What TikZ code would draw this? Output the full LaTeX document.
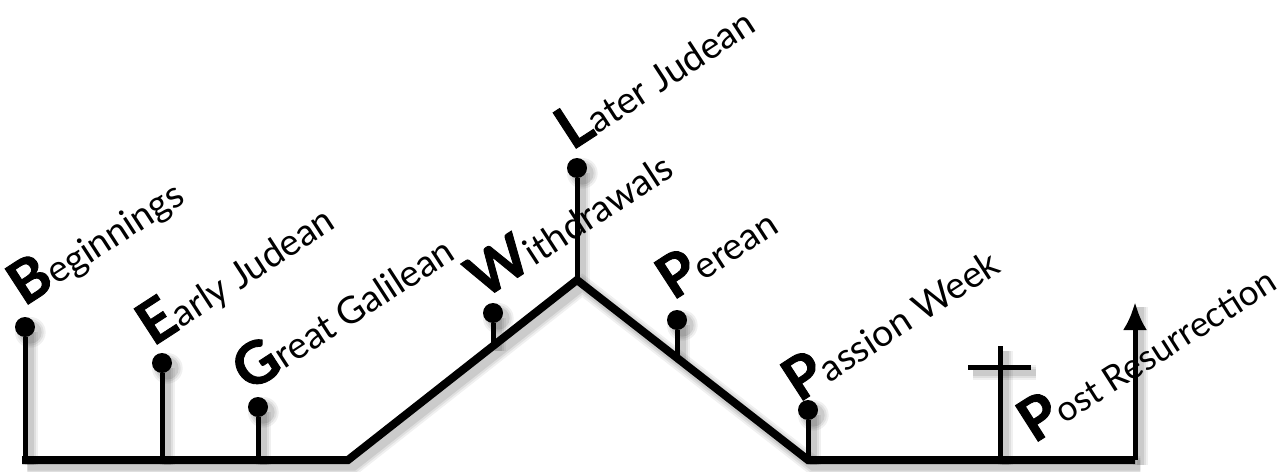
\documentclass[tikz,border=0pt]{standalone}
\usepackage{fontspec}
\setmainfont{Lato}
\newfontfamily\heavy{Lato}[BoldFeatures={FakeBold=1.5}]
\usetikzlibrary{arrows.meta}
\newcommand\Ini[1]{{\fontsize{44}{44}\selectfont\heavy\bfseries #1}}
\newcommand\skel[1]{%
  \draw[line width=6pt+#1, line join=miter] (s) -- (a) -- (top) -- (b) -- (e);
  \foreach \p/\q in {bB/dB, bE/dE, bG/dG, bW/dW, top/dL, bP/dP, bQ/dQ, cb/ct, cl/cr, e/tip}
    \draw[line width=3.75pt+#1] (\p) -- (\q);
  \foreach \q in {dB,dE,dG,dW,dL,dP,dQ}
    \fill (\q) circle[radius=7.5pt+#1/2];
}
\begin{document}
\begin{tikzpicture}[x=0.75pt,y=-0.75pt,
  main/.style={line width=6pt, line join=miter},
  stem/.style={line width=3.75pt},
  dot/.style={circle, fill=black, inner sep=0pt, minimum size=15pt},
  lab/.style={anchor=base west, rotate=33, inner sep=0pt, font=\fontsize{28}{31}\selectfont},
  shadowlayer/.style={transform canvas={shift={(4pt,-4pt)}}, draw=black, fill=black, opacity=#1}]
\useasboundingbox (0,0) rectangle (1288,471);
% main line
\coordinate (s) at (22,460);
\coordinate (a) at (348,460);
\coordinate (top) at (577,280);
\coordinate (b) at (808,460);
\coordinate (e) at (1135,460);
% stem bases and dot centres
\coordinate (bB) at (25,460);  \coordinate (dB) at (25,327);
\coordinate (bE) at (162,460); \coordinate (dE) at (162,363);
\coordinate (bG) at (258,460); \coordinate (dG) at (258,407);
\coordinate (bW) at (493,346); \coordinate (dW) at (493,313);
\coordinate (dL) at (577,168);
\coordinate (bP) at (677,358); \coordinate (dP) at (677,320);
\coordinate (bQ) at (808,460); \coordinate (dQ) at (808,410);
% cross and arrow
\coordinate (cb) at (1000,460); \coordinate (ct) at (1000,346);
\coordinate (cl) at (968,367);  \coordinate (cr) at (1031,367);
\coordinate (tip) at (1135,302);
% soft shadow
\begin{scope}[shadowlayer=0.06] \skel{8pt} \end{scope}
\begin{scope}[shadowlayer=0.07] \skel{5pt} \end{scope}
\begin{scope}[shadowlayer=0.09] \skel{2pt} \end{scope}
% lines
\draw[main] (s) -- (a) -- (top) -- (b) -- (e);
\node[dot] (nB) at (dB) {};
\node[dot] (nE) at (dE) {};
\node[dot] (nG) at (dG) {};
\node[dot] (nW) at (dW) {};
\node[dot] (nL) at (dL) {};
\node[dot] (nP) at (dP) {};
\node[dot] (nQ) at (dQ) {};
\draw[stem] (bB) -- (nB);
\draw[stem] (bE) -- (nE);
\draw[stem] (bG) -- (nG);
\draw[stem] (bW) -- (nW);
\draw[stem] (top) -- (nL);
\draw[stem] (bP) -- (nP);
\draw[stem] (bQ) -- (nQ);
\draw[stem] (cb) -- (ct);
\draw[stem] (cl) -- (cr);
\draw[stem, -{Latex[length=21pt,width=18pt]}] (e) -- (tip);
% labels
\node[lab] (tB) at (24,307) {\Ini{B}eginnings};
\node[lab] (tE) at (153,347) {\Ini{E}arly Judean};
\node[lab] (tG) at (249,393) {\Ini{G}reat Galilean};
\node[lab] (tW) at (483,300) {\Ini{W}ithdrawals};
\node[lab] (tL) at (572,151) {\Ini{L}ater Judean};
\node[lab] (tP) at (673,301) {\Ini{P}erean};
\node[lab] (tQ) at (799,403) {\Ini{P}assion Week};
\node[lab, rotate=-0.5, font=\fontsize{26.5}{30}\selectfont] (tR) at (1034,444) {\Ini{P}ost Resurrection};
\end{tikzpicture}
\end{document}
